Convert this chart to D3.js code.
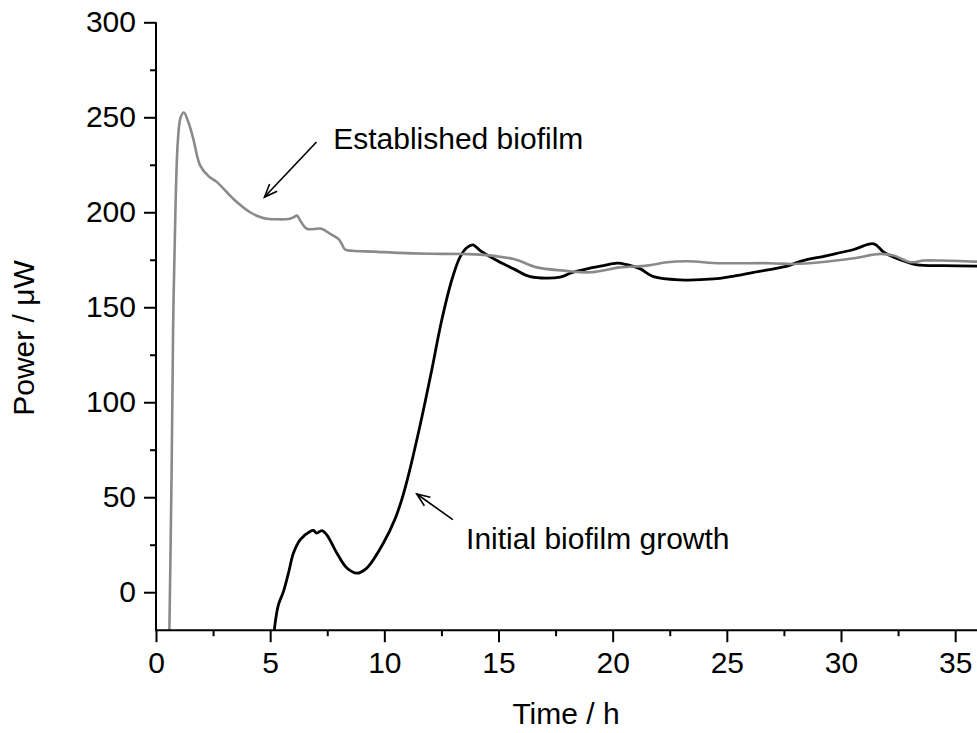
<!DOCTYPE html>
<html><head><meta charset="utf-8">
<script src="https://cdn.jsdelivr.net/npm/d3@7"></script>
<style>
html,body{margin:0;padding:0;background:#fff;}
svg text{font-family:"Liberation Sans",Arial,Helvetica,sans-serif;fill:#000;}
</style></head>
<body>
<svg id="chart" width="977" height="733"></svg>
<script>
// Established biofilm (grey)
const establishedTime = [0.58,0.68,0.75,0.86,0.96,1.08,1.22,1.4,1.63,1.93,2.3,2.66,3.39,4.12,4.56,4.85,5.87,6.05,6.17,6.35,6.6,7.25,7.62,7.99,8.15,8.28,8.6,9.5,10.69,12,13.44,14.2,15.66,16.68,17.85,19.02,20.33,21.5,22.38,23.26,24.72,26.9,27.93,29.1,30.56,31.73,32.31,33.04,33.62,34.36,36];
const establishedPower = [-25,60,140,206,238,250,252.5,248,238.8,224.7,219,216,207,200,197.5,196.6,196.6,197.5,198.3,195,191.3,191.3,188.7,186,183,180.4,179.7,179.3,178.6,178.2,178,177.7,175.4,171,169.3,168.4,171,171.9,173.7,174.2,173.2,173.2,172.8,173.7,175.8,178.1,177.2,173.7,174.6,174.6,174];
// Initial biofilm growth (black)
const initialTime = [5.15,5.18,5.36,5.58,5.8,6.02,6.31,6.75,6.9,7.04,7.26,7.48,7.92,8.36,8.79,9.23,9.96,10.47,10.8,11.09,11.59,12.05,12.51,12.97,13.32,13.61,13.88,14.2,14.93,15.66,16.39,17.7,18.14,18.87,19.6,20.19,20.63,21.21,21.79,22.96,24.42,25.15,26.18,27.64,28.22,29.39,30.56,31.43,31.87,32.31,32.9,33.33,34.5,36];
const initialPower = [-25,-20,-6.7,0.3,10,20.6,27.6,32,32.5,31.1,32.4,30.2,20.6,12.7,10,12.7,25.9,38.6,50.2,63.2,89.2,115.4,143,165,176.5,181.3,182.8,179.8,174.6,170.2,166.1,165.8,167.9,170.2,171.9,173.2,172.4,170.2,166.1,164.4,164.9,166.1,168.4,171.6,174.2,177.2,180.4,183.4,179,176.3,173.7,172.3,171.9,171.6];
const xMajorTicks = [0,5,10,15,20,25,30,35];
const xMinorTicks = [2.5,7.5,12.5,17.5,22.5,27.5,32.5];
const yMajorTicks = [0,50,100,150,200,250,300];
const yMinorTicks = [25,75,125,175,225,275];
const xTitle = "Time / h";
const yTitle = "Power / \u03BCW";
const labels = [
  {text:"Established biofilm", tx:7.76, ty:233.5, from:[7.03,237], to:[4.75,208]},
  {text:"Initial biofilm growth", tx:13.58, ty:22.8, from:[13.0,38.2], to:[11.42,51.7]}
];

const svg = d3.select("#chart");
const x = d3.scaleLinear().domain([0,36]).range([156,978]);
const y = d3.scaleLinear().domain([-20,300]).range([630.2,22.3]);
const FS = 30;

svg.append("defs").append("clipPath").attr("id","clip")
  .append("rect").attr("x",156).attr("y",0).attr("width",822).attr("height",630.2);

const line = d3.line().x(d=>x(d[0])).y(d=>y(d[1])).curve(d3.curveCatmullRom.alpha(0.5));
const plot = svg.append("g").attr("clip-path","url(#clip)");
plot.append("path").datum(d3.zip(initialTime, initialPower))
  .attr("d",line).attr("fill","none").attr("stroke","#000").attr("stroke-width",2.8).attr("stroke-linejoin","round");
plot.append("path").datum(d3.zip(establishedTime, establishedPower))
  .attr("d",line).attr("fill","none").attr("stroke","#8a8a8a").attr("stroke-width",2.6).attr("stroke-linejoin","round");

// axes
const xAxis = svg.append("g").attr("transform",`translate(0,${y(-20)})`);
xAxis.call(d3.axisBottom(x).tickValues(xMajorTicks).tickSize(12).tickPadding(10).tickFormat(d3.format("d")));
xAxis.append("g").call(d3.axisBottom(x).tickValues(xMinorTicks).tickSize(6).tickFormat(""));
const yAxis = svg.append("g").attr("transform",`translate(${x(0)},0)`);
yAxis.call(d3.axisLeft(y).tickValues(yMajorTicks).tickSize(12).tickPadding(8).tickFormat(d3.format("d")));
yAxis.append("g").call(d3.axisLeft(y).tickValues(yMinorTicks).tickSize(6).tickFormat(""));
svg.selectAll(".domain").remove();
svg.selectAll(".tick line").attr("stroke","#000").attr("stroke-width",2);
svg.selectAll(".tick text").attr("font-size",FS).attr("font-family","Liberation Sans, Arial, sans-serif");
svg.append("line").attr("x1",x(0)).attr("x2",978).attr("y1",y(-20)).attr("y2",y(-20)).attr("stroke","#000").attr("stroke-width",2);
svg.append("line").attr("x1",x(0)).attr("x2",x(0)).attr("y1",y(300)).attr("y2",y(-20)+1).attr("stroke","#000").attr("stroke-width",2);

svg.append("text").attr("x",566).attr("y",724).attr("text-anchor","middle").attr("font-size",FS).text(xTitle);
svg.append("text").attr("transform",`translate(34,338) rotate(-90)`).attr("text-anchor","middle").attr("font-size",FS).text(yTitle);

// annotations
labels.forEach(a=>{
  svg.append("text").attr("x",x(a.tx)).attr("y",y(a.ty)).attr("font-size",FS).text(a.text);
  const x1=x(a.from[0]), y1=y(a.from[1]), x2=x(a.to[0]), y2=y(a.to[1]);
  svg.append("line").attr("x1",x1).attr("y1",y1).attr("x2",x2).attr("y2",y2).attr("stroke","#000").attr("stroke-width",1.6);
  const ang=Math.atan2(y1-y2,x1-x2), L=14, s=0.38;
  const p1=[x2+L*Math.cos(ang+s), y2+L*Math.sin(ang+s)], p2=[x2+L*Math.cos(ang-s), y2+L*Math.sin(ang-s)];
  svg.append("path").attr("d",`M${p1}L${x2},${y2}L${p2}`).attr("fill","none").attr("stroke","#000").attr("stroke-width",1.6);
});
</script>
</body></html>
